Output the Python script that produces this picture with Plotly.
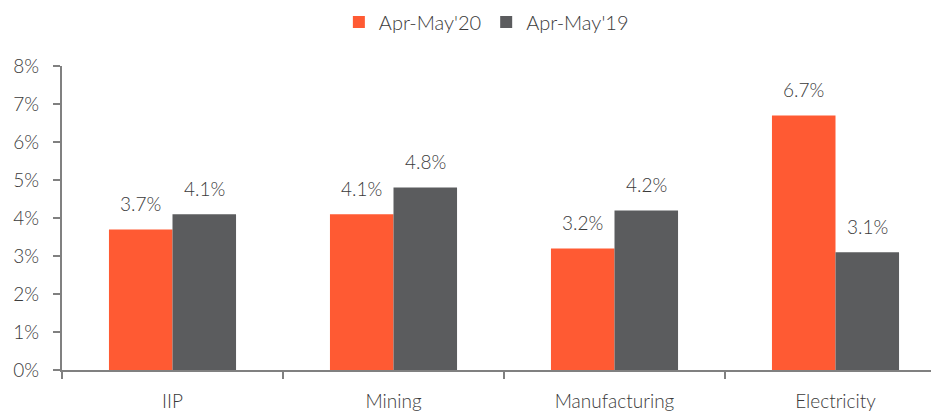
import plotly.graph_objects as go

categories = ["IIP", "Mining", "Manufacturing", "Electricity"]
series_names = ["Apr-May'20", "Apr-May'19"]
values_2020 = [3.7, 4.1, 3.2, 6.7]
values_2019 = [4.1, 4.8, 4.2, 3.1]
y_ticks = [0, 1, 2, 3, 4, 5, 6, 7, 8]
y_tick_labels = [f"{v}%" for v in y_ticks]

ORANGE = "#FF5A33"
GRAY = "#5B5C5E"
TEXT = "#3a3a3a"
FONT = "Lato"
WEIGHT = 300

PAGE_OFFSET = 8  # default body margin of the html page
W, H = 939 - PAGE_OFFSET, 412 - PAGE_OFFSET
ML, MR, MT, MB = 62 - PAGE_OFFSET, 0, 66 - PAGE_OFFSET, 42
cat_px = 221.0
plot_w = W - ML - MR
x_max = -0.5 + plot_w / cat_px
bargap = 0.425
bar_px = cat_px * (1 - bargap) / 2

fig = go.Figure()
fig.add_trace(go.Bar(x=categories, y=values_2020, name=series_names[0],
                     marker=dict(color=ORANGE, line=dict(width=0))))
fig.add_trace(go.Bar(x=categories, y=values_2019, name=series_names[1],
                     marker=dict(color=GRAY, line=dict(width=0))))

for vals, sign in ((values_2020, -1), (values_2019, 1)):
    for c, v in zip(categories, vals):
        fig.add_annotation(x=c, y=v, xref="x", yref="y", text=f"{v:.1f}%",
                           showarrow=False, xshift=sign * bar_px / 2, yshift=26,
                           yanchor="middle",
                           font=dict(family=FONT, size=19, color=TEXT, weight=WEIGHT))

fig.update_layout(
    width=W, height=H,
    margin=dict(l=ML, r=MR, t=MT, b=MB, autoexpand=False),
    paper_bgcolor="white", plot_bgcolor="white",
    barmode="group", bargap=bargap, bargroupgap=0,
    font=dict(family=FONT, size=19, color=TEXT, weight=WEIGHT),
    legend=dict(orientation="h", x=0.5 - 15 / W, xanchor="center", y=1 - 14 / H,
                yanchor="middle", yref="container",
                font=dict(family=FONT, size=20, color=TEXT, weight=WEIGHT),
                itemwidth=30, tracegroupgap=0),
    showlegend=True,
)
fig.update_xaxes(range=[-0.5, x_max], showline=True, linecolor="#808080", linewidth=2,
                 ticks="outside", tickson="boundaries", ticklen=7, tickcolor="#808080",
                 tickwidth=1.5, showgrid=False, ticklabelstandoff=13, automargin=False,
                 tickfont=dict(family=FONT, size=19, color=TEXT, weight=WEIGHT))
fig.update_yaxes(range=[0, 8], tickmode="array", tickvals=y_ticks, ticktext=y_tick_labels,
                 showline=True, linecolor="#808080", linewidth=2, ticks="outside", ticklen=7,
                 tickcolor="#808080", tickwidth=1.5, showgrid=False, zeroline=False,
                 ticklabelstandoff=10, automargin=False,
                 tickfont=dict(family=FONT, size=19, color=TEXT, weight=WEIGHT))

fig.write_html("out.html")
